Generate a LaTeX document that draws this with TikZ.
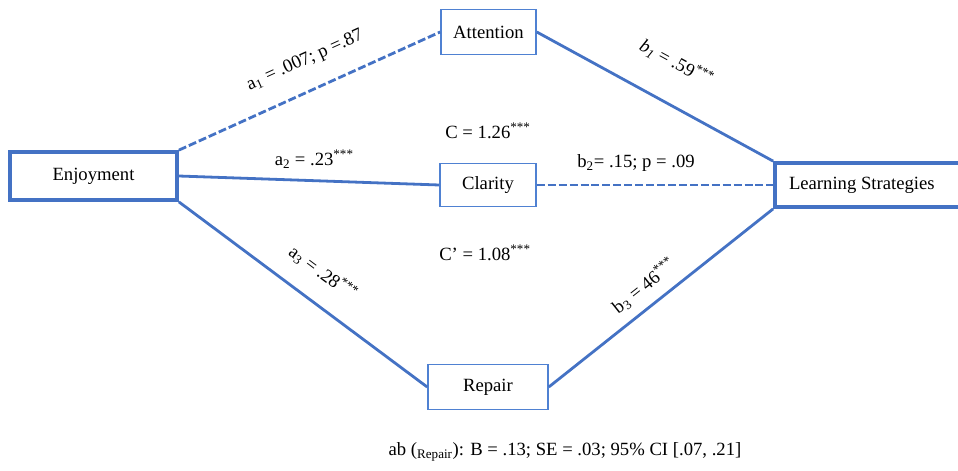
\documentclass[tikz,border=0pt]{standalone}
\usepackage{fontspec}
\setmainfont{Liberation Serif}
\usetikzlibrary{positioning,calc}
\definecolor{pathblue}{RGB}{68,114,196}
\definecolor{boxblue}{RGB}{79,129,210}

\begin{document}
\begin{tikzpicture}[x=0.75pt, y=-0.75pt,
  varbox/.style={draw=pathblue, line width=2.8pt, fill=white, minimum width=167*0.75pt, minimum height=48*0.75pt, font=\fontsize{14}{16}\selectfont},
  medbox/.style={draw=boxblue, line width=1.2pt, fill=white, minimum height=45*0.75pt, font=\fontsize{14}{16}\selectfont},
  pathline/.style={draw=pathblue, line width=2.1pt},
  nspath/.style={pathline, dash pattern=on 6pt off 2.2pt},
  coef/.style={inner sep=0pt, font=\fontsize{14}{16}\selectfont},
]
\useasboundingbox (0,0) rectangle (958,471);
% variables
\node[varbox] (enjoy) at (93.5,176) {Enjoyment};
\node[varbox, minimum width=187*0.75pt, minimum height=44*0.75pt] (learn) at (868.5,185) {\hspace*{-10pt}Learning Strategies};
% mediators
\node[medbox, minimum width=95*0.75pt] (attn) at (488.5,32) {Attention};
\node[medbox, minimum width=96*0.75pt, minimum height=43*0.75pt] (clar) at (488,185) {Clarity};
\node[medbox, minimum width=120*0.75pt] (rep) at (488,387) {Repair};
% a paths
\draw[nspath] (enjoy.north east) -- node[coef, pos=0.53, sloped, above=15pt] {a\textsubscript{1} = .007; p =.87} (attn.west);
\draw[pathline] (enjoy.east) -- node[coef, pos=0.52, above=8pt] {a\textsubscript{2} = .23\textsuperscript{***}} (clar.west);
\draw[pathline] (enjoy.south east) -- node[coef, pos=0.51, sloped, above=14pt] {a\textsubscript{3} = .28\textsuperscript{***}} (rep.west);
% b paths
\draw[pathline] (attn.east) -- node[coef, pos=0.51, sloped, above=22pt] {\textit{b\textsubscript{1}} = .59\textsuperscript{***}} (learn.north west);
\draw[nspath] (clar.east) -- node[coef, pos=0.42, above=9pt] {b\textsubscript{2}= .15; p = .09} (learn.west);
\draw[pathline] (rep.east) -- node[coef, pos=0.48, sloped, above=7pt] {b\textsubscript{3} = 46\textsuperscript{***}} (learn.south west);
% total and direct effects
\node[coef] (total) at (488,131) {C = 1.26\textsuperscript{***}};
\node[coef] (direct) at (485,253) {C’ = 1.08\textsuperscript{***}};
\node[coef] (indirect) at (565,452) {ab (\textsubscript{Repair}): B = .13; SE = .03; 95\% CI [.07, .21]};
\end{tikzpicture}
\end{document}
